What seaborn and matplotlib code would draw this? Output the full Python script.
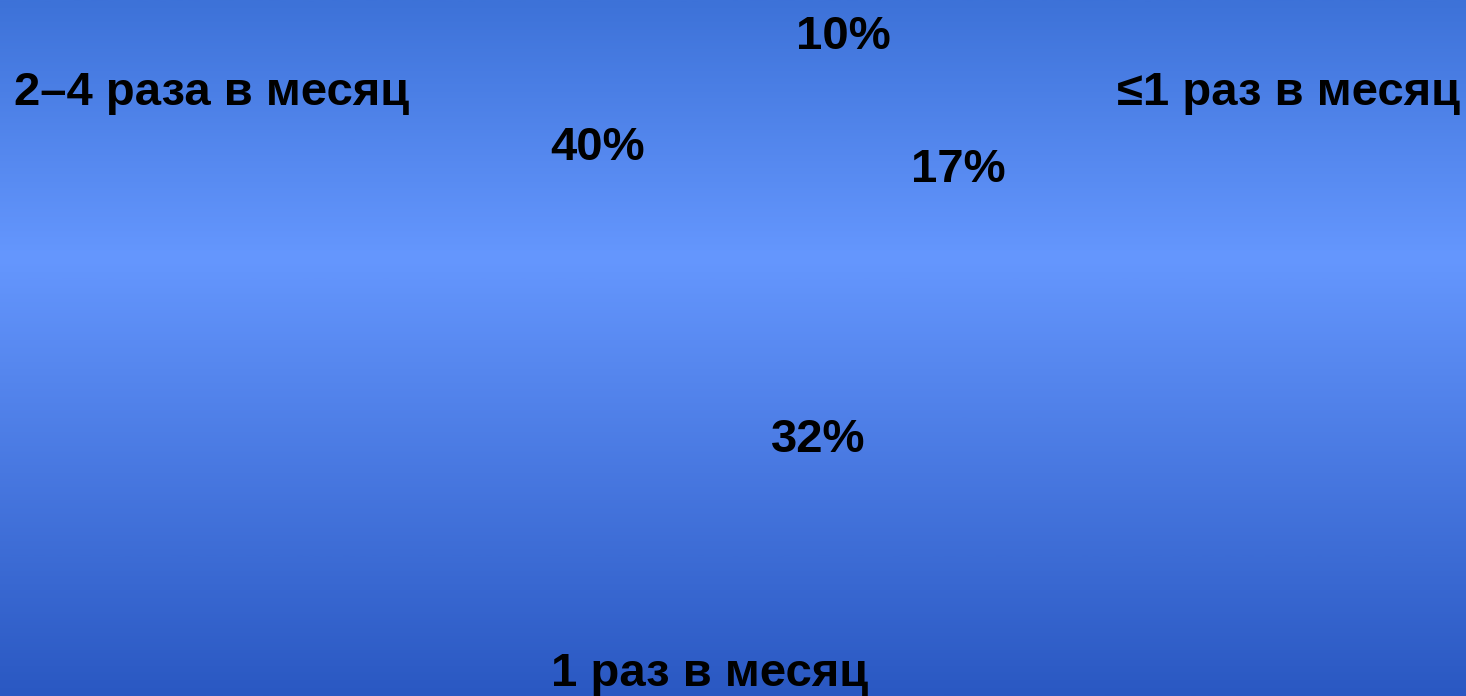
import numpy as np
import matplotlib
matplotlib.use("Agg")
import matplotlib.pyplot as plt
from matplotlib.colors import LinearSegmentedColormap
from matplotlib.transforms import IdentityTransform
import seaborn as sns

# Visit frequency shares (%)
categories = ["2–4 раза в месяц", "", "≤1 раз в месяц", "1 раз в месяц"]
shares = [40, 10, 17, 32]

sns.set_theme(style="white")
plt.rcParams["font.family"] = ["Liberation Sans", "DejaVu Sans"]

W, H, DPI = 1466, 696, 100
fig = plt.figure(figsize=(W / DPI, H / DPI), dpi=DPI)

# Vertical blue gradient backdrop
bg = fig.add_axes([0, 0, 1, 1], zorder=0)
cmap = LinearSegmentedColormap.from_list(
    "slide", [(0.0, "#3d72d8"), (0.37, "#6597fe"), (1.0, "#2a58c2")]
)
grad = np.linspace(0, 1, 512).reshape(-1, 1)
bg.imshow(grad, aspect="auto", cmap=cmap, extent=[0, 1, 0, 1], origin="upper")
bg.set_axis_off()

# Pie with transparent wedges; only the labels are visible
ax = fig.add_axes([0.25, 0.05, 0.6, 0.85], zorder=1)
ax.patch.set_alpha(0)
wedges, texts, autotexts = ax.pie(
    shares,
    labels=categories,
    startangle=90,
    counterclock=False,
    autopct=lambda p: f"{p:.0f}%",
    wedgeprops=dict(alpha=0.0, linewidth=0),
)
ax.set_axis_off()

# Label placement (pixel positions, origin top-left)
pct_pos = [(598, 148), (843, 37), (958, 170), (818, 440)]
cat_pos = [(14, 105, "left"), (0, 0, "center"), (1460, 105, "right"), (710, 686, "center")]

style = dict(fontsize=34, fontweight="bold", color="black")
for t, (x, y) in zip(autotexts, pct_pos):
    t.set_transform(IdentityTransform())
    t.set_position((x, H - y))
    t.set_ha("center")
    t.set_va("center")
    t.update(style)
for t, (x, y, ha) in zip(texts, cat_pos):
    t.set_transform(IdentityTransform())
    t.set_position((x, H - y))
    t.set_ha(ha)
    t.set_va("baseline")
    t.update(style)
    t.set_clip_on(False)

fig.savefig("out.png", dpi=DPI)
